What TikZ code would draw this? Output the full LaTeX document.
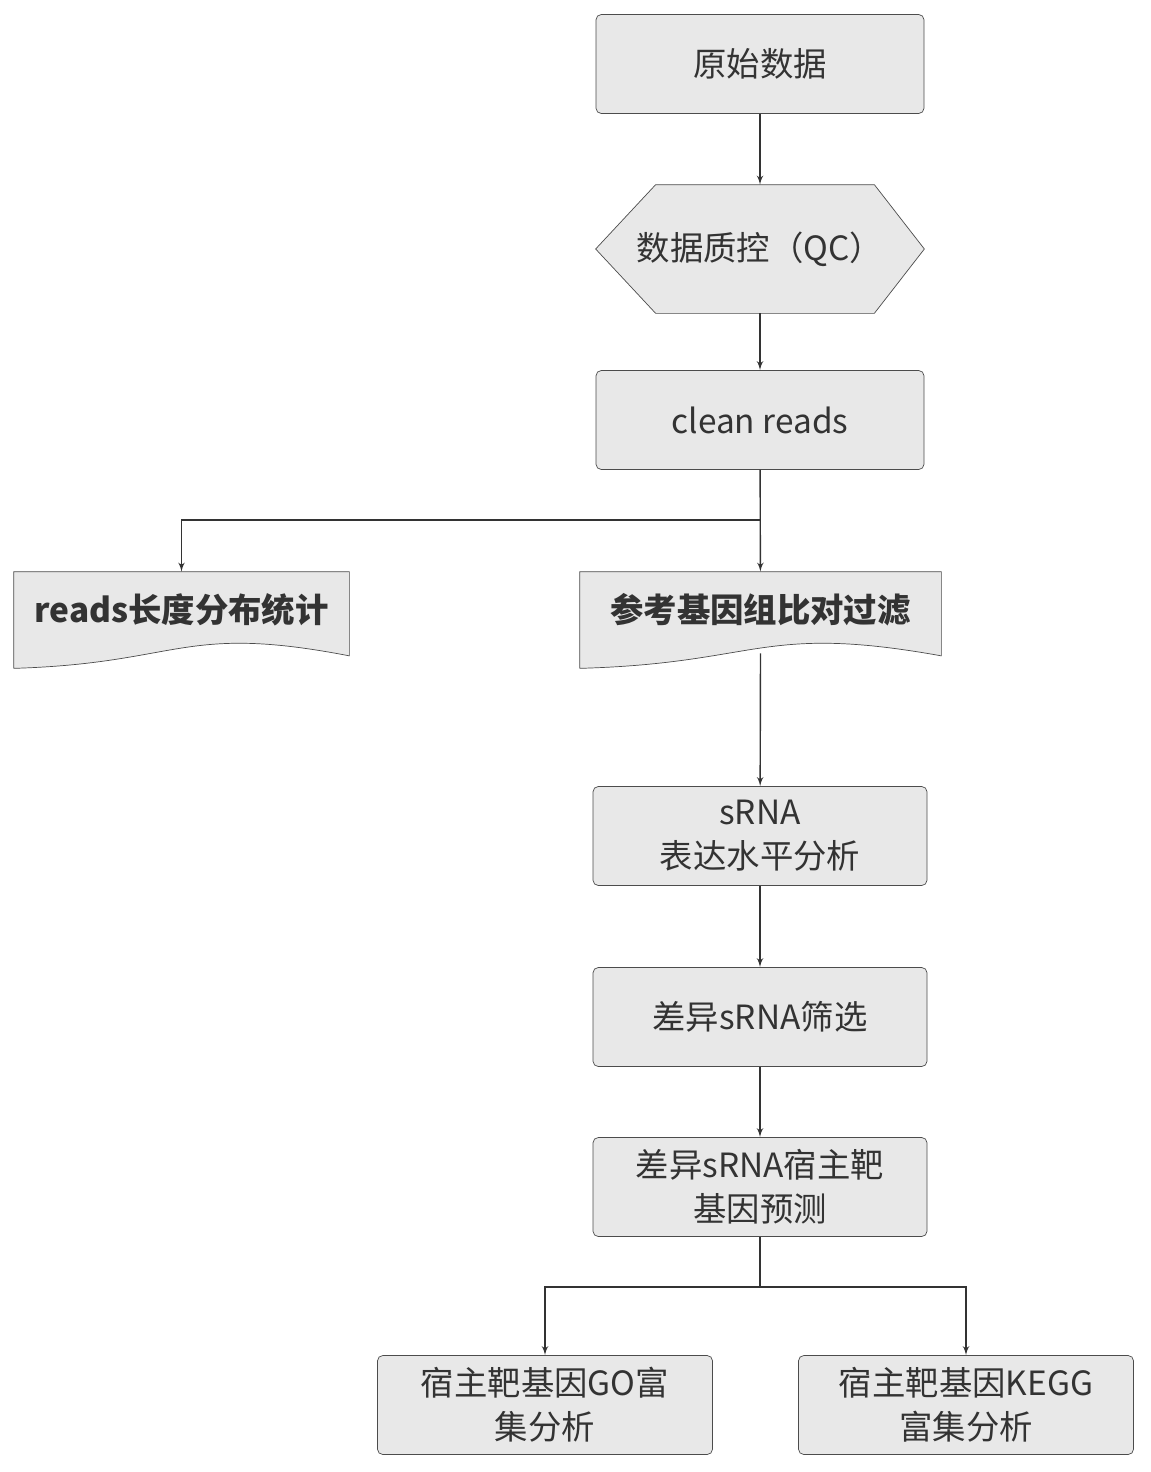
\documentclass[tikz,border=0pt]{standalone}
\usepackage{fontspec}
\setmainfont{Noto Sans CJK SC}
\usetikzlibrary{arrows,calc}
\tikzstyle{block} = [draw=black!70, fill=black!9, rectangle, rounded corners=3pt,
    minimum height=1.98cm, minimum width=6.56cm, align=center,
    font=\fontsize{19}{25}\selectfont, text=black!80]
\tikzstyle{doc} = [rectangle, minimum height=1.92cm, align=center,
    font=\fontsize{19}{25}\selectfont\bfseries, text=black!80]
\tikzstyle{line} = [->, >=latex', draw=black!80, thick]
\begin{document}
\begin{tikzpicture}[auto]
    \useasboundingbox (0,0) rectangle (23,-29.44);
    \node [block] (raw) at (15.2,-1.28) {原始数据};
    \node [rectangle, minimum height=2.56cm, minimum width=6.56cm,
           font=\fontsize{19}{25}\selectfont, text=black!80] (qc) at (15.2,-4.98) {数据质控（QC）};
    \draw [draw=black!70, fill=black!9] (qc.west) -- ($(qc.north west)+(1.2,0)$) -- ($(qc.north east)+(-1.0,0)$)
        -- (qc.east) -- ($(qc.south east)+(-1.0,0)$) -- ($(qc.south west)+(1.2,0)$) -- cycle;
    \node [rectangle, font=\fontsize{19}{25}\selectfont, text=black!80] at (qc) {数据质控（QC）};
    \node [block] (clean) at (15.2,-8.4) {clean reads};
    % document shapes
    \node [doc, minimum width=6.7cm] (len) at (3.63,-12.4) {};
    \node [doc, minimum width=7.22cm] (ref) at (15.21,-12.4) {};
    \foreach \d in {len,ref}{
        \draw [draw=black!70, fill=black!9] (\d.south west) -- (\d.north west) -- (\d.north east)
            -- ($(\d.south east)+(0,0.25)$)
            .. controls ($(\d.south)+(0,0.9)$) and ($(\d.south)+(0,0.1)$) .. (\d.south west);
    }
    \node [doc] at ($(len)+(0,0.2)$) {reads长度分布统计};
    \node [doc] at ($(ref)+(0,0.2)$) {参考基因组比对过滤};
    \node [block, minimum width=6.68cm] (expr) at (15.2,-16.72) {sRNA\\表达水平分析};
    \node [block, minimum width=6.68cm] (diff) at (15.2,-20.34) {差异sRNA筛选};
    \node [block, minimum width=6.68cm] (pred) at (15.2,-23.74) {差异sRNA宿主靶\\基因预测};
    \node [block, minimum width=6.7cm] (go) at (10.9,-28.1) {宿主靶基因GO富\\集分析};
    \node [block, minimum width=6.7cm] (kegg) at (19.32,-28.1) {宿主靶基因KEGG\\富集分析};
    \coordinate (split1) at (15.2,-10.4);
    \coordinate (split2) at (15.2,-25.74);
    \draw [line] (raw) -- (qc);
    \draw [line] (qc) -- (clean);
    \draw [line] (clean) -- (ref);
    \draw [line] (split1) -| (len);
    \draw [line] ($(ref.south)+(0,0.3)$) -- (expr);
    \draw [line] (expr) -- (diff);
    \draw [line] (diff) -- (pred);
    \draw [thick, draw=black!80] (pred) -- (split2);
    \draw [line] (split2) -| (go);
    \draw [line] (split2) -| (kegg);
\end{tikzpicture}
\end{document}
